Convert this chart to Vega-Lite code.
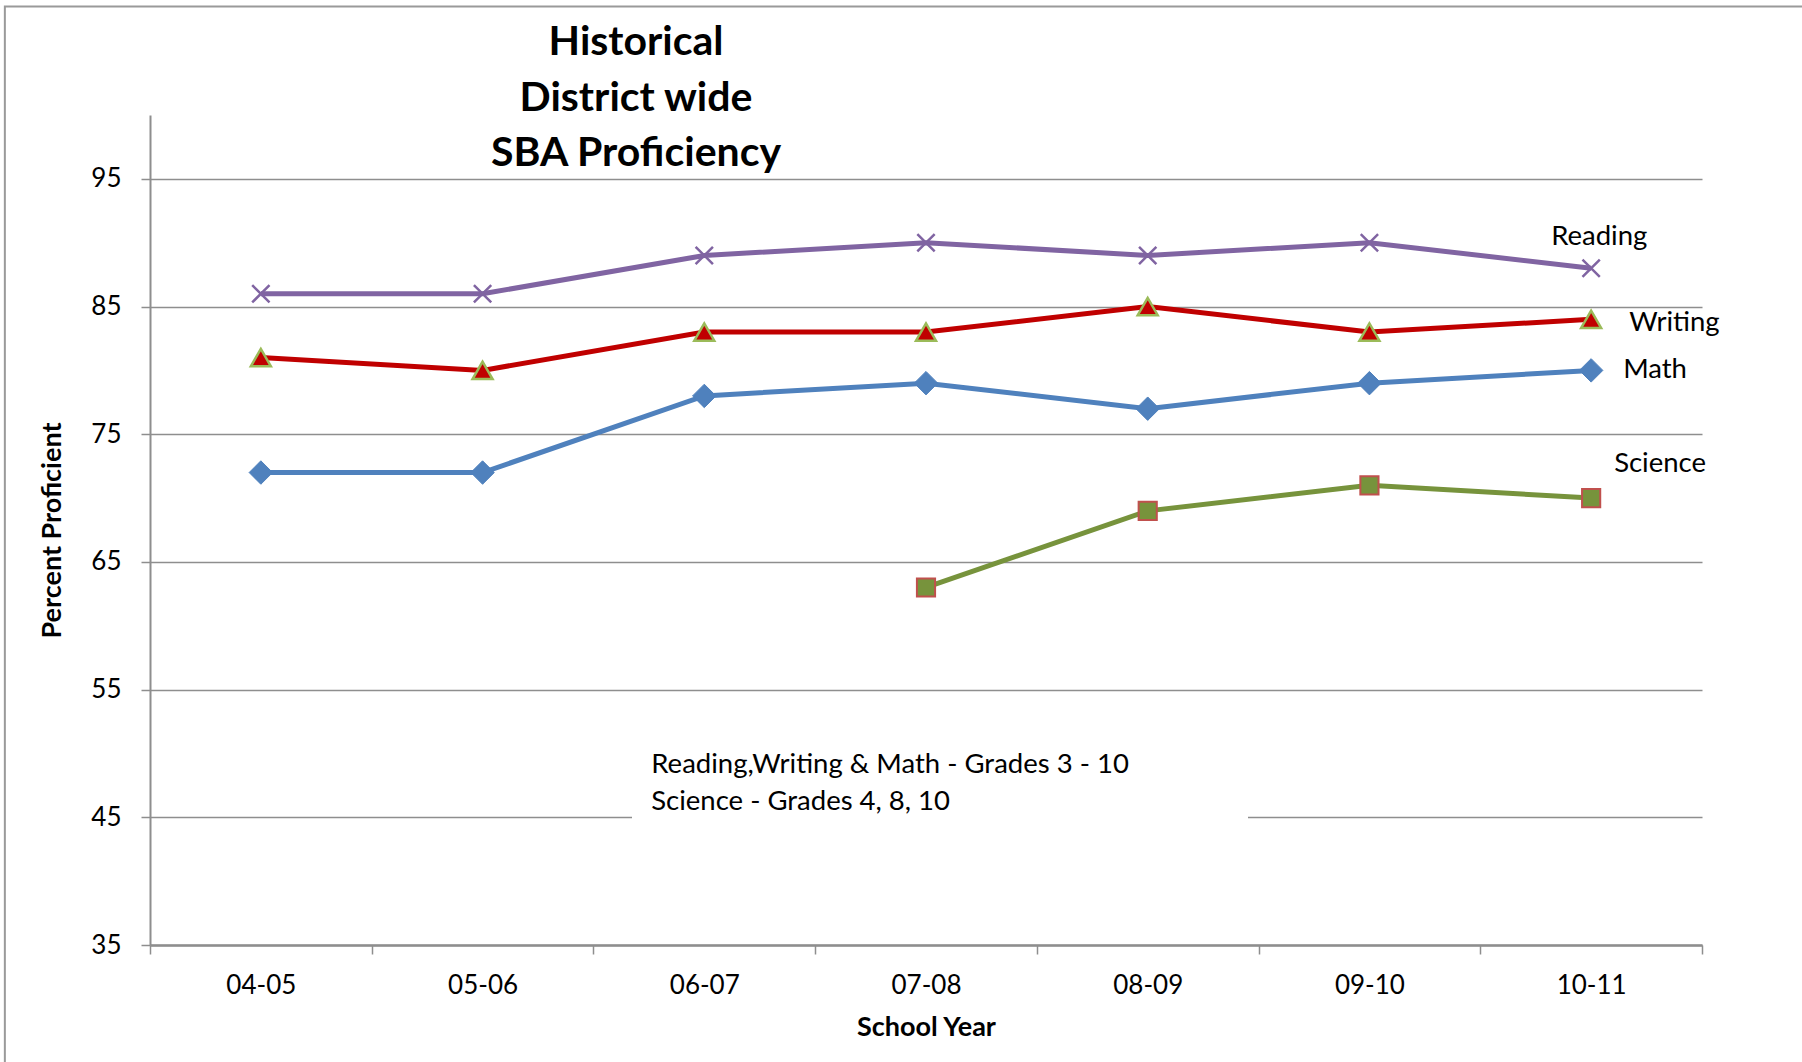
{
  "$schema": "https://vega.github.io/schema/vega-lite/v6.json",
  "width": 1552,
  "height": 830,
  "autosize": {"type": "none"},
  "padding": {"left": 150, "top": 115, "right": 100, "bottom": 117},
  "background": "white",
  "config": {"view": {"stroke": null}, "font": "Lato"},
  "title": {
    "text": ["Historical", "District wide", "SBA Proficiency"],
    "fontSize": 41,
    "fontWeight": "bold",
    "font": "Lato",
    "color": "#000000",
    "lineHeight": 55.5,
    "anchor": "middle",
    "dx": -290,
    "dy": 112,
    "offset": -58
  },
  "datasets": {
    "scores": [
      {"year": "04-05", "subject": "Reading", "value": 86},
      {"year": "05-06", "subject": "Reading", "value": 86},
      {"year": "06-07", "subject": "Reading", "value": 89},
      {"year": "07-08", "subject": "Reading", "value": 90},
      {"year": "08-09", "subject": "Reading", "value": 89},
      {"year": "09-10", "subject": "Reading", "value": 90},
      {"year": "10-11", "subject": "Reading", "value": 88},
      {"year": "04-05", "subject": "Writing", "value": 81},
      {"year": "05-06", "subject": "Writing", "value": 80},
      {"year": "06-07", "subject": "Writing", "value": 83},
      {"year": "07-08", "subject": "Writing", "value": 83},
      {"year": "08-09", "subject": "Writing", "value": 85},
      {"year": "09-10", "subject": "Writing", "value": 83},
      {"year": "10-11", "subject": "Writing", "value": 84},
      {"year": "04-05", "subject": "Math", "value": 72},
      {"year": "05-06", "subject": "Math", "value": 72},
      {"year": "06-07", "subject": "Math", "value": 78},
      {"year": "07-08", "subject": "Math", "value": 79},
      {"year": "08-09", "subject": "Math", "value": 77},
      {"year": "09-10", "subject": "Math", "value": 79},
      {"year": "10-11", "subject": "Math", "value": 80},
      {"year": "07-08", "subject": "Science", "value": 63},
      {"year": "08-09", "subject": "Science", "value": 69},
      {"year": "09-10", "subject": "Science", "value": 71},
      {"year": "10-11", "subject": "Science", "value": 70}
    ]
  },
  "data": {"name": "scores"},
  "encoding": {
    "x": {
      "field": "year",
      "type": "ordinal",
      "bandPosition": 0.5,
      "scale": {"type": "band", "paddingInner": 0, "paddingOuter": 0,
        "domain": ["04-05", "05-06", "06-07", "07-08", "08-09", "09-10", "10-11"]},
      "axis": {
        "title": "School Year",
        "titleFontSize": 27, "titleFontWeight": "bold", "titleColor": "#000000", "titlePadding": 16,
        "labelFontSize": 26, "labelColor": "#000000", "labelAngle": 0, "labelPadding": 18,
        "tickBand": "extent", "tickSize": 9, "tickColor": "#8e8e8e", "tickWidth": 1.5,
        "domainColor": "#8e8e8e", "domainWidth": 2.5, "grid": false
      }
    },
    "y": {
      "field": "value",
      "type": "quantitative",
      "scale": {"domain": [35, 100], "nice": false, "zero": false},
      "axis": {
        "title": "Percent Proficient",
        "titleFontSize": 27, "titleFontWeight": "bold", "titleColor": "#000000", "titlePadding": 24,
        "values": [35, 45, 55, 65, 75, 85, 95],
        "labelFontSize": 26, "labelColor": "#000000", "labelPadding": 20,
        "tickSize": 9, "tickColor": "#8e8e8e", "tickWidth": 1.5,
        "domainColor": "#8e8e8e", "domainWidth": 2,
        "grid": true, "gridColor": "#8e8e8e", "gridWidth": 1.5
      }
    }
  },
  "layer": [
    {
      "transform": [{"filter": "datum.subject === 'Reading' && datum.year === '04-05'"}],
      "mark": {"type": "rect", "fill": "white", "width": 616, "xOffset": 14},
      "encoding": {
        "x": {"datum": "07-08"},
        "y": {"datum": 52},
        "y2": {"datum": 44}
      }
    },
    {
      "transform": [{"filter": "datum.subject === 'Reading' && datum.year === '04-05'"}],
      "mark": {"type": "rect", "fill": null, "fillOpacity": 0, "stroke": "#9a9a9a", "strokeWidth": 2, "width": 4000, "xOffset": 1744},
      "encoding": {
        "x": {"datum": "04-05"},
        "y": {"datum": 108.5},
        "y2": {"datum": 0}
      }
    },
    {
      "mark": {"type": "line", "strokeWidth": 5},
      "encoding": {
        "color": {
          "field": "subject", "type": "nominal", "legend": null,
          "scale": {"domain": ["Reading", "Writing", "Math", "Science"],
            "range": ["#8064A2", "#C00000", "#4F81BD", "#77933C"]}
        }
      }
    },
    {
      "transform": [{"filter": "datum.subject === 'Reading'"}],
      "mark": {"type": "point", "shape": "M-1,-1L1,1M-1,1L1,-1", "filled": false, "stroke": "#8064A2", "strokeWidth": 2.5, "size": 300, "opacity": 1}
    },
    {
      "transform": [{"filter": "datum.subject === 'Writing'"}],
      "mark": {"type": "point", "shape": "triangle-up", "filled": true, "fill": "#C00000", "stroke": "#9BBB59", "strokeWidth": 2.5, "size": 400, "opacity": 1}
    },
    {
      "transform": [{"filter": "datum.subject === 'Math'"}],
      "mark": {"type": "point", "shape": "diamond", "filled": true, "fill": "#4F81BD", "stroke": "#4F81BD", "strokeWidth": 1, "size": 550, "opacity": 1}
    },
    {
      "transform": [{"filter": "datum.subject === 'Science'"}],
      "mark": {"type": "point", "shape": "square", "filled": true, "fill": "#77933C", "stroke": "#C0504D", "strokeWidth": 2, "size": 330, "opacity": 1}
    },
    {
      "transform": [{"filter": "datum.subject === 'Reading' && datum.year === '10-11'"}],
      "mark": {"type": "text", "align": "left", "baseline": "middle", "fontSize": 27.5, "fontWeight": "normal", "color": "#000000", "dx": -40, "dy": -31},
      "encoding": {"text": {"field": "subject"}}
    },
    {
      "transform": [{"filter": "datum.subject === 'Writing' && datum.year === '10-11'"}],
      "mark": {"type": "text", "align": "left", "baseline": "middle", "fontSize": 27.5, "fontWeight": "normal", "color": "#000000", "dx": 38, "dy": 4},
      "encoding": {"text": {"field": "subject"}}
    },
    {
      "transform": [{"filter": "datum.subject === 'Math' && datum.year === '10-11'"}],
      "mark": {"type": "text", "align": "left", "baseline": "middle", "fontSize": 27.5, "fontWeight": "normal", "color": "#000000", "dx": 32, "dy": 0},
      "encoding": {"text": {"field": "subject"}}
    },
    {
      "transform": [{"filter": "datum.subject === 'Science' && datum.year === '10-11'"}],
      "mark": {"type": "text", "align": "left", "baseline": "middle", "fontSize": 27.5, "fontWeight": "normal", "color": "#000000", "dx": 23, "dy": -34},
      "encoding": {"text": {"field": "subject"}}
    },
    {
      "transform": [{"filter": "datum.subject === 'Reading' && datum.year === '04-05'"}],
      "mark": {"type": "text", "align": "left", "baseline": "middle", "fontSize": 27.5, "fontWeight": "normal", "lineHeight": 37, "color": "#000000", "dx": -53},
      "encoding": {
        "x": {"datum": "06-07"},
        "y": {"datum": 49.1},
        "text": {"value": ["Reading,Writing & Math - Grades 3 - 10", "Science - Grades 4, 8, 10"]}
      }
    }
  ]
}
